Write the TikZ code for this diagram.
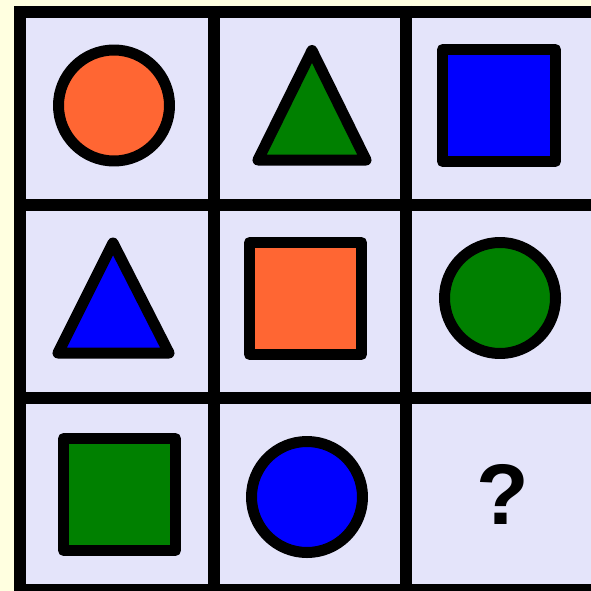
\documentclass[tikz,border=0pt]{standalone}
\usepackage{fontspec}
\setmainfont{Liberation Sans}
\definecolor{bgyellow}{HTML}{FFFFE0}
\definecolor{cellfill}{HTML}{E4E4FA}
\definecolor{shorange}{HTML}{FF6633}
\definecolor{shgreen}{HTML}{008000}
\definecolor{shblue}{HTML}{0000FF}
\tikzset{
  gridline/.style={line width=12pt, black},
  shapeline/.style={line width=11pt, black, line join=round},
  qmark/.style={font=\bfseries\fontsize{86}{86}\selectfont, text=black, inner sep=0pt}
}
\begin{document}
\begin{tikzpicture}[x=1pt,y=-1pt]
\useasboundingbox (0,0) rectangle (591,591);
\clip (0,0) rectangle (591,591);
\fill[bgyellow] (0,0) rectangle (591,591);
\fill[cellfill] (14,6) rectangle (610,600);
% grid lines
\foreach \x in {19.5,213.5,405.5,599} \draw[gridline] (\x,6) -- (\x,600);
\foreach \y in {12,204.5,397.5,590} \draw[gridline] (14,\y) -- (610,\y);
% row 1
\draw[shapeline, fill=shorange] (114,105.5) circle[radius=55.5];
\draw[shapeline, fill=shgreen] (312,50.5) -- (258,160) -- (366,160) -- cycle;
\draw[shapeline, fill=shblue] (442.5,49.5) rectangle (555.5,161.5);
% row 2
\draw[shapeline, fill=shblue] (113,243) -- (58,353) -- (169,353) -- cycle;
\draw[shapeline, fill=shorange] (249.5,242.5) rectangle (361.5,354.5);
\draw[shapeline, fill=shgreen] (500,298) circle[radius=55.5];
% row 3
\draw[shapeline, fill=shgreen] (63.5,438.5) rectangle (175.5,550.5);
\draw[shapeline, fill=shblue] (307,497) circle[radius=55.5];
\node[qmark, anchor=base] (q) at (503,524) {?};
\end{tikzpicture}
\end{document}
